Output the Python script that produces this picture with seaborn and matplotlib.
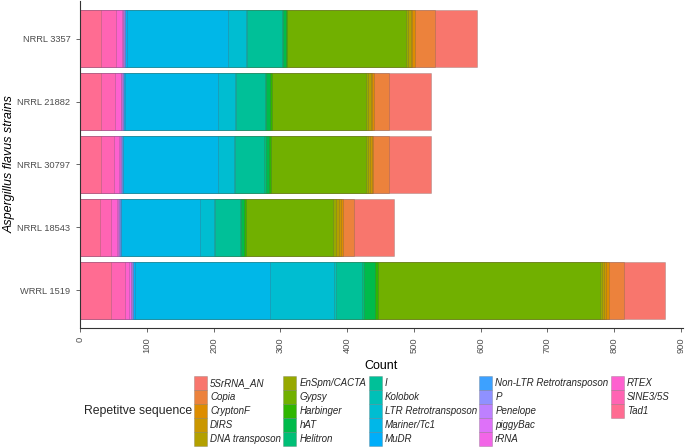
import numpy as np
import pandas as pd
import matplotlib
matplotlib.use("Agg")
import matplotlib.pyplot as plt
from matplotlib.patches import Patch
import seaborn as sns

# strains, top to bottom
strains = ["NRRL 3357", "NRRL 21882", "NRRL 30797", "NRRL 18543", "WRRL 1519"]

# repetitive sequence classes (factor level order, first level stacks on the right)
sequences = ["5SrRNA_AN", "Copia", "CryptonF", "DIRS", "DNA transposon",
             "EnSpm/CACTA", "Gypsy", "Harbinger", "hAT", "Helitron",
             "I", "Kolobok", "LTR Retrotransposon", "Mariner/Tc1", "MuDR",
             "Non-LTR Retrotransposon", "P", "Penelope", "piggyBac", "rRNA",
             "RTEX", "SINE3/5S", "Tad1"]

# counts per strain, same order as sequences
nrrl_3357 = [63, 31, 4, 2, 4, 3, 178, 2, 4, 2, 52, 2, 26, 151, 3, 1, 1, 1, 1, 1, 9, 22, 32]
nrrl_21882 = [62, 22, 3, 2, 4, 3, 142, 3, 5, 2, 44, 1, 25, 139, 2, 1, 1, 1, 1, 1, 9, 21, 31]
nrrl_30797 = [63, 23, 2, 2, 3, 3, 143, 3, 5, 2, 44, 1, 24, 142, 1, 1, 1, 1, 1, 1, 8, 20, 31]
nrrl_18543 = [60, 16, 3, 3, 5, 4, 131, 2, 5, 2, 37, 1, 21, 118, 1, 1, 1, 1, 1, 1, 9, 17, 30]
wrrl_1519 = [61, 23, 5, 3, 3, 3, 331, 5, 17, 3, 39, 2, 97, 202, 2, 1, 1, 1, 1, 2, 7, 21, 46]

counts = [nrrl_3357, nrrl_21882, nrrl_30797, nrrl_18543, wrrl_1519]


# ggplot2 default hue palette (hcl, c=100, l=65)
def hue_pal(n, c=100, l=65):
    hues = np.linspace(15, 375, n + 1)[:-1]
    xn, yn, zn = 95.047, 100.0, 108.883
    un = 4 * xn / (xn + 15 * yn + 3 * zn)
    vn = 9 * yn / (xn + 15 * yn + 3 * zn)
    out = []
    for h in hues:
        u = c * np.cos(np.radians(h))
        v = c * np.sin(np.radians(h))
        y = yn * ((l + 16) / 116) ** 3
        up = u / (13 * l) + un
        vp = v / (13 * l) + vn
        x = 9 * y * up / (4 * vp)
        z = -x / 3 - 5 * y + 3 * y / vp
        x, y, z = x / 100, y / 100, z / 100
        rgb = np.array([3.240479 * x - 1.537150 * y - 0.498535 * z,
                        -0.969256 * x + 1.875992 * y + 0.041556 * z,
                        0.055648 * x - 0.204043 * y + 1.057311 * z])
        rgb = np.where(rgb > 0.0031308, 1.055 * np.abs(rgb) ** (1 / 2.4) - 0.055, 12.92 * rgb)
        out.append(tuple(np.clip(rgb, 0, 1)))
    return out


colors = hue_pal(len(sequences))

rows = []
for s, vals in zip(strains, counts):
    for seq, v in zip(sequences, vals):
        rows.append({"strain": s, "sequence": seq, "count": v})
df = pd.DataFrame(rows)
df["sequence"] = pd.Categorical(df["sequence"], categories=sequences, ordered=True)
df = df.sort_values(["strain", "sequence"])
# cumulative end of each segment (last level starts at zero)
df["end"] = df.groupby("strain")["count"].transform(lambda c: c[::-1].cumsum()[::-1])

sns.set_theme(style="ticks")
plt.rcParams["font.family"] = ["Liberation Sans", "DejaVu Sans"]

fig = plt.figure(figsize=(6.85, 4.48), dpi=100)
ax = fig.add_axes([80 / 685, 1 - 328 / 448, 603 / 685, 327 / 448])

edge = (0.35, 0.35, 0.35, 0.45)
for seq, col in zip(sequences, colors):
    sub = df[df["sequence"] == seq]
    sns.barplot(data=sub, x="end", y="strain", order=strains, orient="h",
                color=col, saturation=1, width=0.9, errorbar=None,
                edgecolor=edge, linewidth=0.4, ax=ax)

ax.set_xlim(0, 903)
ax.set_ylim(4.6, -0.6)
ax.set_xticks(range(0, 901, 100))
ax.tick_params(axis="x", labelrotation=90, labelsize=6.7, colors="#4d4d4d", length=3, width=0.6)
ax.tick_params(axis="y", labelsize=6.7, colors="#4d4d4d", length=3, width=0.6, pad=4)
for lab in ax.get_xticklabels() + ax.get_yticklabels():
    lab.set_color("#4d4d4d")
ax.set_xlabel("Count", fontsize=9, color="black", labelpad=5)
ax.set_ylabel("Aspergillus flavus strains", fontsize=9, fontstyle="italic", color="black")
ax.yaxis.set_label_coords(-0.107, 0.5)
for side in ["top", "right"]:
    ax.spines[side].set_visible(False)
for side in ["left", "bottom"]:
    ax.spines[side].set_color("#333333")
    ax.spines[side].set_linewidth(0.8)

handles = [Patch(facecolor=col, edgecolor=edge, linewidth=0.4, label=seq)
           for seq, col in zip(sequences, colors)]
handles.append(Patch(facecolor="none", edgecolor="none", label=""))
leg = fig.legend(handles=handles, ncol=5, loc="upper left",
                 bbox_to_anchor=(194 / 685, 1 - 376 / 448), frameon=False,
                 prop={"style": "italic", "size": 7.0},
                 handlelength=1.35, handleheight=1.84, labelspacing=0.0,
                 handletextpad=0.3, columnspacing=0.25, borderpad=0, borderaxespad=0)
fig.text(192 / 685, 1 - 411 / 448, "Repetitve sequence", ha="right", va="center", fontsize=8.8)

fig.savefig("out.png", dpi=100)
